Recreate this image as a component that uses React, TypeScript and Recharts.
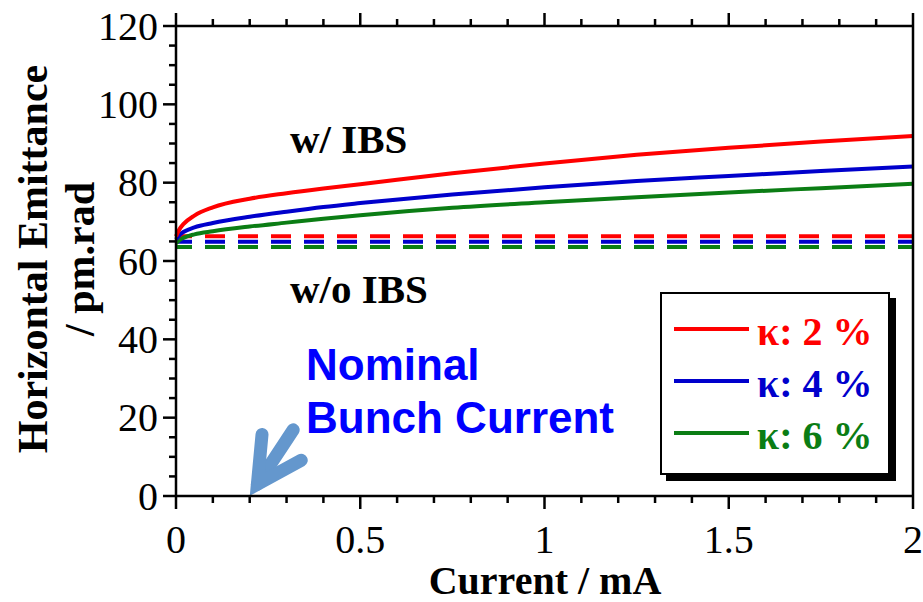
import { Legend, Line, LineChart, ReferenceLine, XAxis, YAxis } from "recharts";

// current in mA
const current = [0, 0.01, 0.02, 0.05, 0.1, 0.2, 0.3, 0.4, 0.5, 0.75, 1.0, 1.25, 1.5, 1.75, 2.0];
// horizontal emittance w/ IBS, pm.rad
const kappa2 = [66.3, 68.2, 69.4, 71.6, 73.7, 75.9, 77.3, 78.5, 79.6, 82.4, 84.9, 87.1, 88.9, 90.5, 91.9];
const kappa4 = [65.5, 66.7, 67.4, 68.6, 69.7, 71.3, 72.6, 73.8, 74.8, 77.0, 78.8, 80.4, 81.7, 83.0, 84.1];
const kappa6 = [64.5, 65.4, 65.9, 66.8, 67.6, 68.8, 69.8, 70.8, 71.7, 73.6, 75.0, 76.3, 77.5, 78.6, 79.7];
// w/o IBS (flat)
const noIbs = [66.3, 64.9, 63.6];

const seriesNames = ["κ: 2 %", "κ: 4 %", "κ: 6 %"];
const colors = ["#ff0000", "#0000cc", "#0b7d14"];

const xTicks = [0, 0.1, 0.2, 0.3, 0.4, 0.5, 0.6, 0.7, 0.8, 0.9, 1, 1.1, 1.2, 1.3, 1.4, 1.5, 1.6, 1.7, 1.8, 1.9, 2];
const xMajor = [0, 0.5, 1, 1.5, 2];
const yTicks = [0, 5, 10, 15, 20, 25, 30, 35, 40, 45, 50, 55, 60, 65, 70, 75, 80, 85, 90, 95, 100, 105, 110, 115, 120];
const yMajor = [0, 20, 40, 60, 80, 100, 120];

const data = current.map((c, i) => ({
  current: c,
  k2: kappa2[i],
  k4: kappa4[i],
  k6: kappa6[i],
  f2: noIbs[0],
  f4: noIbs[1],
  f6: noIbs[2],
}));

const serif = "'Liberation Serif', 'Times New Roman', serif";
const sans = "'Liberation Sans', Arial, sans-serif";
const AXIS = 2.5;

const BottomTick = ({ x, y, payload }: any) => {
  const major = xMajor.includes(payload.value);
  return (
    <g>
      <line x1={x} x2={x} y1={y} y2={y + (major ? 13 : 7)} stroke="#000" strokeWidth={AXIS} />
      {major && (
        <text x={x} y={y + 57} textAnchor="middle" fontFamily={serif} fontSize={40} fill="#000">
          {payload.value}
        </text>
      )}
    </g>
  );
};

const TopTick = ({ x, y, payload }: any) => {
  const major = xMajor.includes(payload.value);
  return <line x1={x} x2={x} y1={y} y2={y - (major ? 13 : 7)} stroke="#000" strokeWidth={AXIS} />;
};

const LeftTick = ({ x, y, payload }: any) => {
  const major = yMajor.includes(payload.value);
  return (
    <g>
      <line x1={x} x2={x - (major ? 13 : 7)} y1={y} y2={y} stroke="#000" strokeWidth={AXIS} />
      {major && (
        <text x={x - 18} y={y} dy="0.34em" textAnchor="end" fontFamily={serif} fontSize={40} fill="#000">
          {payload.value}
        </text>
      )}
    </g>
  );
};

const RightTick = ({ x, y, payload }: any) => {
  const major = yMajor.includes(payload.value);
  return <line x1={x} x2={x + (major ? 13 : 7)} y1={y} y2={y} stroke="#000" strokeWidth={AXIS} />;
};

// thick chevron arrow pointing at the nominal bunch current
const Arrow = ({ x1, y1, x2, y2 }: any) => {
  const dx = x1 - x2;
  const dy = y1 - y2;
  const len = Math.hypot(dx, dy);
  const ux = dx / len;
  const uy = dy / len;
  const vx = x2 + ux * 14;
  const vy = y2 + uy * 14;
  const wing = 50;
  const a = (28 * Math.PI) / 180;
  const w1x = vx + wing * (ux * Math.cos(a) - uy * Math.sin(a));
  const w1y = vy + wing * (ux * Math.sin(a) + uy * Math.cos(a));
  const w2x = vx + wing * (ux * Math.cos(-a) - uy * Math.sin(-a));
  const w2y = vy + wing * (ux * Math.sin(-a) + uy * Math.cos(-a));
  return (
    <g stroke="#6497cd" strokeWidth={13} fill="none">
      <line x1={x1} y1={y1} x2={vx} y2={vy} strokeLinecap="round" />
      <path d={`M${w1x},${w1y} L${vx},${vy} L${w2x},${w2y}`} strokeLinecap="round" strokeLinejoin="miter" strokeMiterlimit={10} />
    </g>
  );
};

const KappaLegend = () => (
  <div style={{ width: 226, height: 179, border: "2px solid #000", boxShadow: "6px 6px 0 #000", background: "#fff" }}>
    <svg width={226} height={179}>
      {seriesNames.map((name, i) => (
        <g key={name}>
          <line x1={12} x2={87} y1={35 + 52 * i} y2={35 + 52 * i} stroke={colors[i]} strokeWidth={4} />
          <text x={95} y={51 + 52 * i} fontFamily={serif} fontWeight="bold" fontSize={40} fill={colors[i]}>
            {name}
          </text>
        </g>
      ))}
    </svg>
  </div>
);

export default function App() {
  return (
    <div style={{ position: "absolute", left: 0, top: 0, width: 923, height: 602, background: "#fff" }}>
      <LineChart width={923} height={602} data={data} margin={{ top: 0, right: 0, bottom: 0, left: 0 }}>
        <XAxis
          dataKey="current"
          type="number"
          domain={[0, 2]}
          ticks={xTicks}
          interval={0}
          height={106}
          tickSize={0}
          tickMargin={0}
          tickLine={false}
          axisLine={{ stroke: "#000", strokeWidth: AXIS }}
          tick={<BottomTick />}
        />
        <XAxis
          xAxisId="top"
          orientation="top"
          dataKey="current"
          type="number"
          domain={[0, 2]}
          ticks={xTicks}
          interval={0}
          height={26}
          tickSize={0}
          tickMargin={0}
          tickLine={false}
          axisLine={{ stroke: "#000", strokeWidth: AXIS }}
          tick={<TopTick />}
        />
        <YAxis
          type="number"
          domain={[0, 120]}
          ticks={yTicks}
          interval={0}
          width={176}
          tickSize={0}
          tickMargin={0}
          tickLine={false}
          axisLine={{ stroke: "#000", strokeWidth: AXIS }}
          tick={<LeftTick />}
        />
        <YAxis
          yAxisId="right"
          orientation="right"
          type="number"
          domain={[0, 120]}
          ticks={yTicks}
          interval={0}
          width={10}
          tickSize={0}
          tickMargin={0}
          tickLine={false}
          axisLine={{ stroke: "#000", strokeWidth: AXIS }}
          tick={<RightTick />}
        />
        <Line dataKey="f2" stroke={colors[0]} strokeWidth={4} strokeDasharray="20 13" strokeDashoffset={4} dot={false} legendType="none" isAnimationActive={false} />
        <Line dataKey="f4" stroke={colors[1]} strokeWidth={4} strokeDasharray="20 13" strokeDashoffset={4} dot={false} legendType="none" isAnimationActive={false} />
        <Line dataKey="f6" stroke={colors[2]} strokeWidth={4} strokeDasharray="20 13" strokeDashoffset={4} dot={false} legendType="none" isAnimationActive={false} />
        <Line type="monotone" dataKey="k6" name={seriesNames[2]} stroke={colors[2]} strokeWidth={4} dot={false} isAnimationActive={false} />
        <Line type="monotone" dataKey="k4" name={seriesNames[1]} stroke={colors[1]} strokeWidth={4} dot={false} isAnimationActive={false} />
        <Line type="monotone" dataKey="k2" name={seriesNames[0]} stroke={colors[0]} strokeWidth={4} dot={false} isAnimationActive={false} />
        <ReferenceLine segment={[{ x: 0.318, y: 16.9 }, { x: 0.2, y: 0 }]} shape={<Arrow />} />
        <Legend
          layout="horizontal"
          verticalAlign="middle"
          align="center"
          content={<KappaLegend />}
          wrapperStyle={{ left: 660, top: 292, width: 230, height: 183 }}
        />
      </LineChart>
      <svg width={923} height={602} style={{ position: "absolute", left: 0, top: 0, pointerEvents: "none" }}>
        <text x={290} y={153} fontFamily={serif} fontWeight="bold" fontSize={41} fill="#000">w/ IBS</text>
        <text x={290} y={303} fontFamily={serif} fontWeight="bold" fontSize={41} fill="#000">w/o IBS</text>
        <text x={306} y={380} fontFamily={sans} fontWeight="bold" fontSize={44} fill="#0000ff">Nominal</text>
        <text x={306} y={433} fontFamily={sans} fontWeight="bold" fontSize={44} fill="#0000ff">Bunch Current</text>
        <text x={545} y={594} textAnchor="middle" fontFamily={serif} fontWeight="bold" fontSize={40} fill="#000">Current / mA</text>
        <g transform="translate(47,259) rotate(-90)">
          <text x={0} y={0} textAnchor="middle" fontFamily={serif} fontWeight="bold" fontSize={42} fill="#000">Horizontal Emittance</text>
          <text x={0} y={47} textAnchor="middle" fontFamily={serif} fontWeight="bold" fontSize={42} fill="#000">/ pm.rad</text>
        </g>
      </svg>
    </div>
  );
}
